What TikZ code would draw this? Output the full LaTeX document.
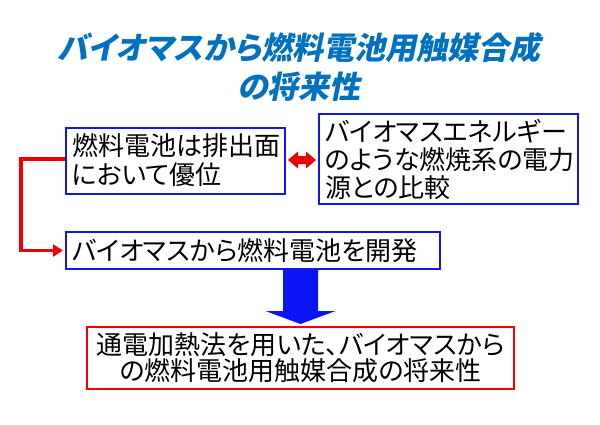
\documentclass[tikz,border=0pt]{standalone}
\usepackage{fontspec}
\usetikzlibrary{arrows.meta,calc}
\newfontfamily\jp[RawFeature={+palt}]{Noto Sans CJK JP}
\newfontfamily\jptitle[FakeSlant=0.2,RawFeature={+palt}]{Noto Sans CJK JP}
\definecolor{titleblue}{RGB}{0,112,192}
\definecolor{boxblue}{RGB}{20,20,235}
\definecolor{arrred}{RGB}{240,0,0}
\definecolor{arrblue}{RGB}{10,20,245}
\begin{document}
\begin{tikzpicture}[x=1pt,y=-1pt,
  titlestyle/.style={text=titleblue, align=center, inner sep=0pt,
    font=\jptitle\bfseries\fontsize{31}{39}\selectfont},
  box/.style={draw=boxblue, line width=2pt, fill=white, inner xsep=6pt,
    inner ysep=0pt, align=left, text=black},
  redbox/.style={box, draw=arrred, align=center},
  elbow/.style={draw=arrred, line width=3.5pt, -{Triangle[length=10pt,width=12pt]}},
]
\useasboundingbox (0,0) rectangle (600,424);
\node[titlestyle] (title) at (299,67) {バイオマスから燃料電池用触媒合成\\の将来性};

\node[box, text width=207pt, minimum height=66pt,
  font=\jp\fontsize{26}{29}\selectfont] (b1) at (175.5,160.5)
  {燃料電池は排出面\\において優位};
\node[box, text width=247pt, minimum height=90pt,
  font=\jp\fontsize{26}{28}\selectfont] (b2) at (448.5,159)
  {バイオマスエネルギー\\のような燃焼系の電力\\源との比較};
\node[box, text width=362pt, minimum height=37pt,
  font=\jp\fontsize{26}{28}\selectfont] (b3) at (253,250.5)
  {バイオマスから燃料電池を開発};
\node[redbox, text width=415pt, minimum height=62pt,
  font=\jp\fontsize{26}{26}\selectfont] (b4) at (300.5,358)
  {通電加熱法を用いた、バイオマスから\\の燃料電池用触媒合成の将来性};

% red double arrow between b1 and b2
\coordinate (dl) at ([xshift=2pt,yshift=0.5pt]b1.east);
\coordinate (dr) at ([xshift=-2pt]dl -| b2.west);
\fill[arrred] (dl) -- ($(dl)+(10,-8.5)$) -- ($(dl)+(10,-4)$) -- ($(dr)+(-10,-4)$)
  -- ($(dr)+(-10,-8.5)$) -- (dr) -- ($(dr)+(-10,8.5)$) -- ($(dr)+(-10,4)$)
  -- ($(dl)+(10,4)$) -- ($(dl)+(10,8.5)$) -- cycle;

% red elbow connector from b1 to b3
\draw[elbow] ([yshift=1.5pt]b1.west) -- ++(-44,0) |- ([xshift=-2pt]b3.west);

% blue block arrow from b3 down to b4
\coordinate (top) at (b4.north |- b3.south);
\coordinate (tip) at ([yshift=2pt]b4.north);
\fill[arrblue] ($(top)+(-17.5,0)$) -- ($(top)+(17.5,0)$) -- ($(tip)+(17.5,-13)$)
  -- ($(tip)+(35,-13)$) -- (tip) -- ($(tip)+(-35,-13)$) -- ($(tip)+(-17.5,-13)$) -- cycle;
\end{tikzpicture}
\end{document}
